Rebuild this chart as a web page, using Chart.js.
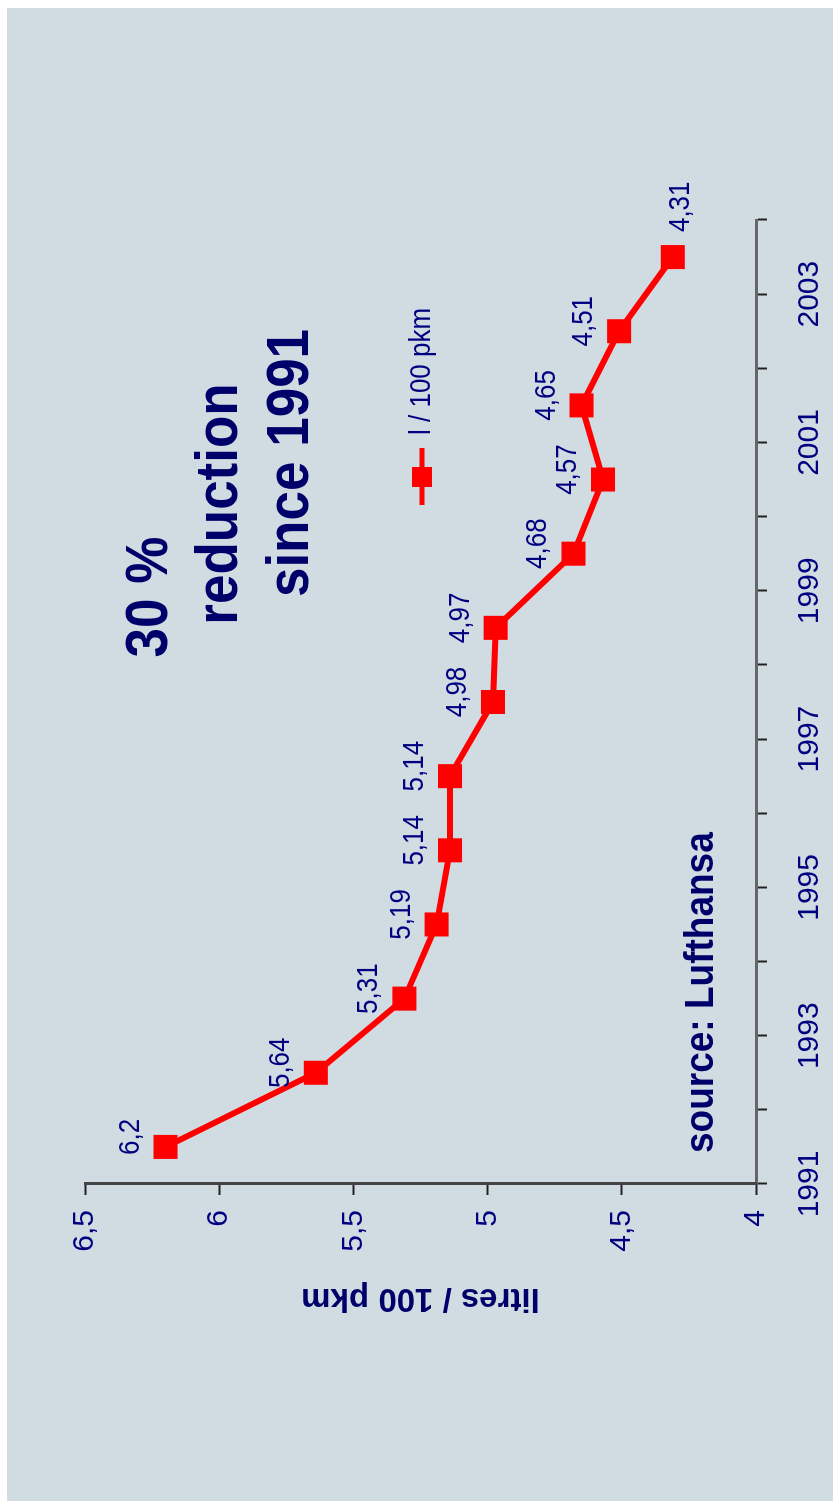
<!DOCTYPE html>
<html>
<head>
<meta charset="utf-8">
<title>Lufthansa fuel consumption</title>
<script src="https://cdn.jsdelivr.net/npm/chart.js@4.4.0/dist/chart.umd.min.js"></script>
<style>
  html, body { margin: 0; padding: 0; background: #fff; overflow: hidden; }
  body { width: 833px; height: 1501px; position: relative; }
  #panel { position: absolute; left: 7px; top: 8px; width: 826px; height: 1493px; background: #d1dce2; }
  /* chart is laid out landscape, then turned a quarter left */
  #turn {
    position: absolute; left: 0; top: 0; width: 1501px; height: 833px;
    transform-origin: 0 0; transform: translate(0, 1501px) rotate(-90deg);
  }
</style>
</head>
<body>
<div id="panel"></div>
<div id="turn"><canvas id="fuel" width="1501" height="833"></canvas></div>

<script>
const years = [1991, 1992, 1993, 1994, 1995, 1996, 1997, 1998, 1999, 2000, 2001, 2002, 2003];
const litres = [6.2, 5.64, 5.31, 5.19, 5.14, 5.14, 4.98, 4.97, 4.68, 4.57, 4.65, 4.51, 4.31];
const yearLabels = [1991, 1993, 1995, 1997, 1999, 2001, 2003];
const litreTicks = [4, 4.5, 5, 5.5, 6, 6.5];

const NAVY = "#000080";
const DARK = "#00006a";
const RED = "#ff0000";
const FONT = "'Liberation Sans', Arial, sans-serif";
const TALL = 1.12; // slightly narrow lettering

Chart.defaults.font.family = FONT;

const comma = (v) => String(v).replace(".", ",");

// text drawn a little taller than wide
function tallText(ctx, txt, x, y) {
  ctx.save();
  ctx.translate(x, y);
  ctx.scale(1, TALL);
  ctx.fillText(txt, 0, 0);
  ctx.restore();
}

// value labels above each marker, the last one sits to its right
const valueLabels = {
  id: "valueLabels",
  afterDatasetsDraw(chart) {
    const ctx = chart.ctx;
    const pts = chart.getDatasetMeta(0).data;
    ctx.save();
    ctx.fillStyle = NAVY;
    ctx.font = "26px " + FONT;
    pts.forEach((p, i) => {
      const txt = comma(litres[i]);
      if (i === pts.length - 1) {
        ctx.textAlign = "left";
        ctx.textBaseline = "middle";
        tallText(ctx, txt, p.x + 25, p.y + 8);
      } else {
        ctx.textAlign = "center";
        ctx.textBaseline = "alphabetic";
        tallText(ctx, txt, p.x + 10, p.y - 27);
      }
    });
    ctx.restore();
  }
};

// headline, legend key and source note
const notes = {
  id: "notes",
  afterDraw(chart) {
    const ctx = chart.ctx;
    ctx.save();

    ctx.fillStyle = DARK;
    ctx.font = "bold 53px " + FONT;
    ctx.textAlign = "center";
    ctx.textBaseline = "alphabetic";
    tallText(ctx, "30 %", 904, 167);
    tallText(ctx, "reduction", 997, 237);
    tallText(ctx, "since 1991", 1038, 308);

    // legend key: line with square marker
    ctx.strokeStyle = RED;
    ctx.lineWidth = 5;
    ctx.beginPath();
    ctx.moveTo(996, 422);
    ctx.lineTo(1053, 422);
    ctx.stroke();
    ctx.fillStyle = RED;
    ctx.fillRect(1014, 412, 20, 20);
    ctx.fillStyle = NAVY;
    ctx.font = "26px " + FONT;
    ctx.textAlign = "left";
    tallText(ctx, "l / 100 pkm", 1066, 430);

    ctx.fillStyle = DARK;
    ctx.font = "bold 37px " + FONT;
    tallText(ctx, "source: Lufthansa", 348, 713);

    ctx.restore();
  }
};

new Chart(document.getElementById("fuel"), {
  type: "line",
  data: {
    datasets: [{
      label: "l / 100 pkm",
      // each year is plotted in the middle of its band
      data: years.map((yr, i) => ({ x: yr + 0.5, y: litres[i] })),
      borderColor: RED,
      backgroundColor: RED,
      borderWidth: 6,
      tension: 0,
      pointStyle: "rect",
      pointRadius: 17,
      pointBorderWidth: 0,
      pointBackgroundColor: RED
    }]
  },
  options: {
    responsive: false,
    devicePixelRatio: 1,
    animation: false,
    events: [],
    layout: { padding: { left: 183, right: 220, top: 85, bottom: 7 } },
    plugins: {
      legend: { display: false },
      tooltip: { enabled: false }
    },
    scales: {
      x: {
        type: "linear",
        min: years[0],
        max: years[years.length - 1] + 1,
        afterFit: (s) => { s.height = 70; },
        afterBuildTicks: (s) => {
          s.ticks = [];
          for (let v = s.min; v <= s.max; v++) s.ticks.push({ value: v });
        },
        ticks: {
          autoSkip: false,
          maxRotation: 0,
          padding: 25,
          color: NAVY,
          font: { size: 30 },
          callback: (v) => (yearLabels.includes(v) ? String(v) : "")
        },
        grid: { drawOnChartArea: false, tickLength: 11, tickColor: "#222", tickWidth: 2 },
        border: { color: "#666", width: 3 }
      },
      y: {
        type: "linear",
        min: litreTicks[0],
        max: litreTicks[litreTicks.length - 1],
        afterFit: (s) => { s.width = 134; },
        afterBuildTicks: (s) => { s.ticks = litreTicks.map((v) => ({ value: v })); },
        ticks: {
          padding: 15,
          color: NAVY,
          font: { size: 30 },
          callback: (v) => comma(v)
        },
        title: {
          display: true,
          text: "litres / 100 pkm",
          color: DARK,
          padding: { top: 0, bottom: 0 },
          font: { size: 33, weight: "bold" }
        },
        grid: { drawOnChartArea: false, tickLength: 11, tickColor: "#222", tickWidth: 2 },
        border: { color: "#444", width: 3 }
      }
    }
  },
  plugins: [valueLabels, notes]
});
</script>
</body>
</html>
